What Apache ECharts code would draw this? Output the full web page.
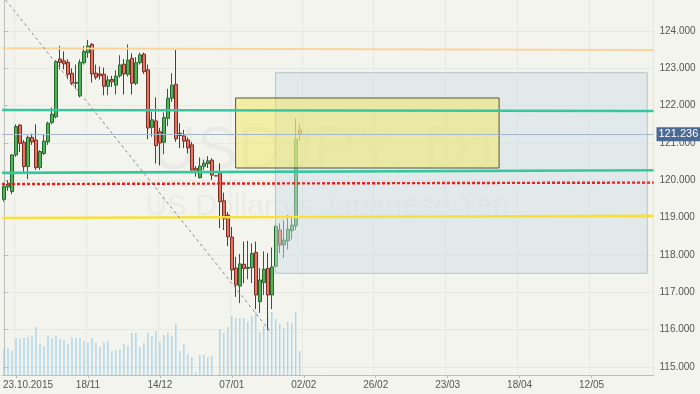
<!DOCTYPE html>
<html><head><meta charset="utf-8">
<script src="https://cdn.jsdelivr.net/npm/echarts@6/dist/echarts.min.js"></script>
<style>html,body{margin:0;padding:0;background:#f4f4ef}#c{width:700px;height:394px}</style>
</head><body><div id="c"></div>
<script>
// ---- data ----
const firstTradingDay = [2015, 9, 20];   // 20 Oct 2015 (weekday calendar, daily bars)
const categoryCount = 163;
const tickLabels = ['23.10.2015','18/11','14/12','07/01','02/02','26/02','23/03','18/04','12/05'];
const tickFirstIndex = 3, tickStep = 18;
const priceTicks = [115,116,117,118,119,120,121,122,123,124];

const opens  = [119.49,119.82,119.70,120.68,121.48,121.02,120.37,121.15,121.08,120.34,120.72,121.03,121.55,121.70,123.25,123.20,123.16,122.87,122.60,122.26,123.15,123.42,123.64,122.87,122.85,122.84,122.52,122.70,122.55,122.80,123.11,122.84,123.27,122.60,123.15,123.38,122.96,121.42,121.59,121.30,121.02,121.66,122.20,122.57,121.26,121.19,121.08,120.95,120.32,120.07,120.38,120.45,120.54,120.12,120.20,119.45,119.07,118.48,117.65,117.17,117.75,117.64,117.66,118.07,116.75,117.26,117.64,116.93,117.70,118.67,118.27,118.38,118.65,118.78,121.35];
const closes = [119.83,119.90,120.68,121.44,120.99,120.37,121.15,121.03,120.34,120.77,121.05,121.53,121.77,123.18,123.16,123.12,122.84,122.60,122.62,123.16,123.45,123.60,122.85,122.76,122.80,122.52,122.69,122.64,122.79,123.09,122.85,123.22,122.60,123.15,123.36,122.91,121.40,121.62,120.93,121.00,121.68,122.20,122.55,121.11,121.20,121.05,120.87,120.28,120.22,120.38,120.46,120.52,120.14,120.12,119.43,118.97,118.49,117.60,117.20,117.76,117.64,117.67,118.04,116.93,117.33,117.62,116.93,117.68,118.77,118.27,118.40,118.69,118.80,121.10,121.236];
const lows   = [119.43,119.72,119.63,120.63,120.76,120.23,120.03,120.95,120.28,120.28,120.68,120.95,121.50,121.66,122.97,122.97,122.71,122.55,122.45,122.22,123.10,123.28,122.62,122.70,122.70,122.28,122.28,122.50,122.30,122.75,122.30,122.78,122.30,122.55,123.10,122.85,121.10,121.17,120.45,120.40,120.70,121.45,122.10,121.03,120.86,120.86,120.72,120.26,120.10,120.05,120.28,120.33,120.01,120.12,118.72,118.67,118.24,117.33,116.88,116.71,117.24,117.35,117.25,116.55,116.45,116.93,115.99,116.55,117.65,118.05,117.92,118.15,118.42,118.67,121.06];
const highs  = [119.90,120.00,120.70,121.50,121.50,121.08,121.20,121.25,121.50,120.81,121.23,121.57,121.95,123.22,123.60,123.45,123.24,123.00,123.10,123.24,123.60,123.76,123.68,123.10,123.05,123.02,122.80,122.80,122.95,123.35,123.25,123.64,123.40,123.30,123.42,123.42,123.10,121.84,122.22,121.40,121.82,122.45,122.87,123.49,121.53,121.35,121.15,121.03,120.38,120.61,120.55,120.65,120.59,120.13,120.46,119.67,119.15,118.75,117.95,118.03,118.36,118.38,118.31,118.36,117.65,118.10,118.05,118.20,118.85,118.85,118.93,119.07,119.02,121.66,121.51];
const volumes = [26,27,24,37,36,37,38,40,48,32,29,40,37,39,36,35,31,38,37,37,34,32,37,32,28,33,34,24,25,26,31,29,42,42,28,32,42,39,44,33,40,42,39,51,24,31,21,18,3,20,20,18,19,null,46,42,48,59,57,57,57,53,59,63,43,49,57,63,56,51,47,53,52,63,24];
const lastPrice = 121.236;

// horizontal levels: value at left edge / right edge of the chart
const levelNames = ['resistance','upperChannel','lowerChannel','pivot','support'];
const levelStart = [123.54, 121.884, 120.20, 119.90, 118.99];
const levelEnd   = [123.49, 121.857, 120.27, 119.94, 119.05];
// dashed trend line (bar index, price)
const trendX = [0.4, 67.0];
const trendY = [124.83, 115.90];
// rectangles [x1 (bar index), price top, x2 (bar index), price bottom]
const zoneBlue   = [67.93, 122.883, 160.94, 117.51];
const zoneYellow = [57.94, 122.205, 123.87, 120.33];

// ---- build ----
const categories = [];
let t = Date.UTC(firstTradingDay[0], firstTradingDay[1], firstTradingDay[2]);
while (categories.length < categoryCount) {
  const d = new Date(t);
  const wd = d.getUTCDay();
  if (wd !== 0 && wd !== 6) categories.push(d.toISOString().slice(0, 10));
  t += 86400000;
}
const candles = opens.map((o, i) => [o, closes[i], lows[i], highs[i]]);
const isTick = (i) => i >= tickFirstIndex && (i - tickFirstIndex) % tickStep === 0;
const tickText = (i) => tickLabels[(i - tickFirstIndex) / tickStep] || '';

const FONT = 'Liberation Sans, Arial, sans-serif';
const levelStyles = [
  {color:'#fbd49c', width:2},
  {color:'#35c8a0', width:2.6},
  {color:'#35c8a0', width:2.6},
  {color:'#f01e1e', width:2.4, type:[3,2]},
  {color:'#f8e03a', width:2.4}
];

function rectSeries(rect, z, fill, stroke) {
  return {
    type:'custom', xAxisIndex:1, yAxisIndex:0, z:z, silent:true, clip:true,
    data:[rect], encode:{x:[0,2], y:[1,3]},
    renderItem:(params, api) => {
      const p1 = api.coord([api.value(0), api.value(1)]);
      const p2 = api.coord([api.value(2), api.value(3)]);
      return {type:'rect', shape:{x:p1[0], y:p1[1], width:p2[0]-p1[0], height:p2[1]-p1[1]},
        style:{fill:fill, stroke:stroke, lineWidth:1}};
    }
  };
}

const series = [
  {type:'bar', name:'Volume', xAxisIndex:0, yAxisIndex:1, data:volumes, barWidth:1,
   itemStyle:{color:'#8ec8ea'}, z:1, silent:true},
  {type:'candlestick', name:'USDJPY', xAxisIndex:0, yAxisIndex:0, data:candles, barWidth:3, z:2,
   itemStyle:{color:'#58b05c', color0:'#e27563', borderColor:'#1f6a2b', borderColor0:'#7c2a22', borderWidth:1},
   markLine:{symbol:'none', silent:true, animation:false, precision:3,
     data:[{yAxis:lastPrice}],
     lineStyle:{color:'#a3b6ca', width:1, type:'solid'},
     label:{show:true, position:'end', distance:3, formatter:() => lastPrice.toFixed(3),
       backgroundColor:'#4a6a93', color:'#fff', fontFamily:FONT, fontSize:11, padding:[2,2,1,2]}}},
  rectSeries(zoneBlue, 3, 'rgba(204,221,230,0.48)', 'rgba(170,186,192,0.8)'),
  rectSeries(zoneYellow, 4, 'rgba(240,232,100,0.52)', '#55553a')
];
levelStart.forEach((s, i) => {
  series.push({type:'line', name:levelNames[i], xAxisIndex:1, yAxisIndex:0, z:5, silent:true,
    symbol:'none', data:[[-0.5, s], [categoryCount - 0.5, levelEnd[i]]],
    lineStyle:levelStyles[i]});
});
series.push({type:'line', name:'trend', xAxisIndex:1, yAxisIndex:0, z:5, silent:true,
  symbol:'none', data:[[trendX[0], trendY[0]], [trendX[1], trendY[1]]],
  lineStyle:{color:'#8a8a8a', width:1, type:[3,3]}});

const chart = echarts.init(document.getElementById('c'), null, {renderer:'canvas'});
chart.setOption({
  backgroundColor:'#f4f4ef',
  animation:false,
  textStyle:{fontFamily:FONT},
  grid:{left:1.5, right:46.5, top:0, bottom:19, containLabel:false},
  graphic:[
    {type:'text', z:0, silent:true, style:{x:327, y:152, text:'USDJPY, D1', textAlign:'center', textVerticalAlign:'middle',
      fontFamily:FONT, fontSize:62, fill:'rgba(0,0,0,0.035)'}},
    {type:'text', z:0, silent:true, style:{x:327.5, y:207, text:'US Dollar vs Japanese Yen', textAlign:'center', textVerticalAlign:'middle',
      fontFamily:FONT, fontSize:30, fill:'rgba(0,0,0,0.035)'}}
  ],
  xAxis:[
    {type:'category', data:categories, boundaryGap:true,
     axisLine:{lineStyle:{color:'#bdbdbd'}},
     axisTick:{show:true, alignWithLabel:true, interval:(i) => isTick(i), length:3, lineStyle:{color:'#bdbdbd'}},
     axisLabel:{interval:(i) => isTick(i), formatter:(v, i) => i === tickFirstIndex ? '{first|' + tickText(i) + '}' : tickText(i),
       color:'#555', fontSize:10, fontFamily:FONT, margin:5,
       rich:{first:{padding:[0,0,0,24], color:'#555', fontSize:10, fontFamily:FONT}}},
     splitLine:{show:true, interval:(i) => isTick(i), lineStyle:{color:'#e8e8e2', width:1}}},
    {type:'value', min:-0.5, max:categoryCount - 0.5, show:false}
  ],
  yAxis:[
    {type:'value', position:'right', min:114.786, max:124.830, scale:true,
     axisLine:{show:true, lineStyle:{color:'#bdbdbd'}},
     axisTick:{show:true, length:4, customValues:priceTicks, lineStyle:{color:'#bdbdbd'}},
     axisLabel:{customValues:priceTicks, formatter:(v) => v.toFixed(3), margin:6, color:'#555', fontSize:10, fontFamily:FONT},
     splitLine:{show:true, lineStyle:{color:'#e8e8e2', width:1}}},
    {type:'value', min:0, max:375, show:false}
  ],
  series:series
});
</script>
</body></html>
